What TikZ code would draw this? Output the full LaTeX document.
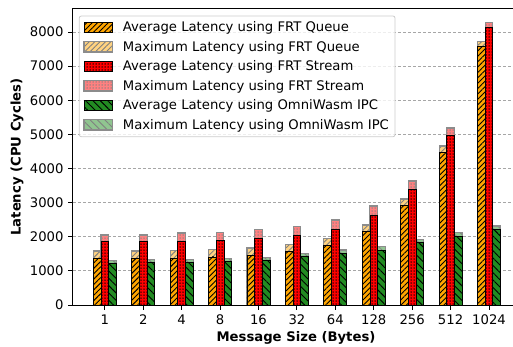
\documentclass[tikz,border=0pt]{standalone}
\usepackage{fontspec}
\setmainfont{DejaVu Sans}
\usetikzlibrary{patterns.meta}
\definecolor{qcol}{HTML}{FFA500}
\definecolor{scol}{HTML}{FF0000}
\definecolor{ocol}{HTML}{228B22}
\tikzset{
    every node/.style={inner sep=0pt, font=\fontsize{13.2}{15}\selectfont},
    axisline/.style={draw=black, line width=1pt},
    gridline/.style={draw=black!35, line width=0.9pt, dash pattern=on 3pt off 2pt},
    qhatch/.style={pattern={Lines[angle=45,distance=3.8pt,line width=0.9pt]}},
    shatch/.style={pattern={Dots[distance=3pt,radius=0.75pt]}},
    ohatch/.style={pattern={Lines[angle=-45,distance=5.2pt,line width=0.9pt]}},
    qavg/.style={preaction={fill=qcol}, qhatch, pattern color=black, draw=black, line width=0.8pt},
    savg/.style={preaction={fill=scol}, shatch, pattern color=black, draw=black, line width=0.8pt},
    oavg/.style={preaction={fill=ocol}, ohatch, pattern color=black, draw=black, line width=0.8pt},
    qmax/.style={preaction={fill=qcol!50}, qhatch, pattern color=black!50, draw=black!45, line width=1.1pt},
    smax/.style={preaction={fill=scol!50}, shatch, pattern color=black!50, draw=black!45, line width=1.1pt},
    omax/.style={preaction={fill=ocol!50}, ohatch, pattern color=black!50, draw=black!45, line width=1.1pt},
    boldlabel/.style={font=\fontsize{13.2}{15}\selectfont\bfseries}
}

\begin{document}
\begin{tikzpicture}[x=1pt,y=1pt]
	\useasboundingbox (0,0) rectangle (513,346);
	\begin{scope}[shift={(104.8,41)}, x=38.42pt, y=0.034125pt]
		% grid and y ticks
		\foreach \v in {1000,2000,...,8000}
			\draw[gridline] (-0.83,\v) -- (10.63,\v);
		\foreach \v in {0,1000,...,8000}{
			\draw[axisline] (-0.83,\v) -- ++(-4.6pt,0pt);
			\node[anchor=east, xshift=-9.2pt] (yt\v) at (-0.83,\v) {\v};
		}
		% bars: max behind, average in front
		\foreach \i/\qa/\qm/\sa/\sm/\oa/\om/\sz in {
			0/1360/1582/1855/2051/1215/1310/1,
			1/1360/1582/1855/2051/1240/1338/2,
			2/1368/1592/1860/2110/1245/1340/4,
			3/1407/1621/1895/2129/1270/1368/8,
			4/1465/1670/1953/2210/1319/1405/16,
			5/1563/1768/2051/2305/1416/1514/32,
			6/1739/1953/2227/2491/1514/1612/64,
			7/2149/2344/2618/2901/1612/1709/128,
			8/2921/3106/3395/3634/1827/1924/256,
			9/4463/4659/4982/5187/2022/2119/512,
			10/7570/7736/8136/8272/2218/2315/1024}{
			\draw[qmax] (\i-0.3,0) rectangle (\i-0.1,\qm);
			\draw[smax] (\i-0.1,0) rectangle (\i+0.1,\sm);
			\draw[omax] (\i+0.1,0) rectangle (\i+0.3,\om);
			\draw[qavg] (\i-0.3,0) rectangle (\i-0.1,\qa);
			\draw[savg] (\i-0.1,0) rectangle (\i+0.1,\sa);
			\draw[oavg] (\i+0.1,0) rectangle (\i+0.3,\oa);
			\draw[axisline] (\i,0) -- ++(0pt,-4.6pt);
			\node[anchor=north] (xt\i) at (\i,-9.2pt) {\sz};
		}
		% frame (right side falls outside the page)
		\draw[axisline] (10.63,8686) -- (-0.83,8686) -- (-0.83,0) -- (10.63,0);
	\end{scope}
	% axis titles
	\node[boldlabel] (xlab) at (296,8) {Message Size (Bytes)};
	\node[boldlabel, rotate=90] (ylab) at (17,189) {Latency (CPU Cycles)};
	% legend
	\draw[draw=black!20, fill=white, fill opacity=0.8, rounded corners=2pt, line width=0.8pt]
		(79.3,209.3) rectangle (395,330);
	\foreach \k/\st/\txt in {
		1/qavg/Average Latency using FRT Queue,
		2/qmax/Maximum Latency using FRT Queue,
		3/savg/Average Latency using FRT Stream,
		4/smax/Maximum Latency using FRT Stream,
		5/oavg/Average Latency using OmniWasm IPC,
		6/omax/Maximum Latency using OmniWasm IPC}{
		\pgfmathsetmacro\ry{318.7-19.5*(\k-1)}
		\draw[\st] (84,\ry-5.2) rectangle (112.3,\ry+5.2);
		\node[anchor=base west] (lg\k) at (122.7,\ry-4.5) {\txt};
	}
\end{tikzpicture}
\end{document}
